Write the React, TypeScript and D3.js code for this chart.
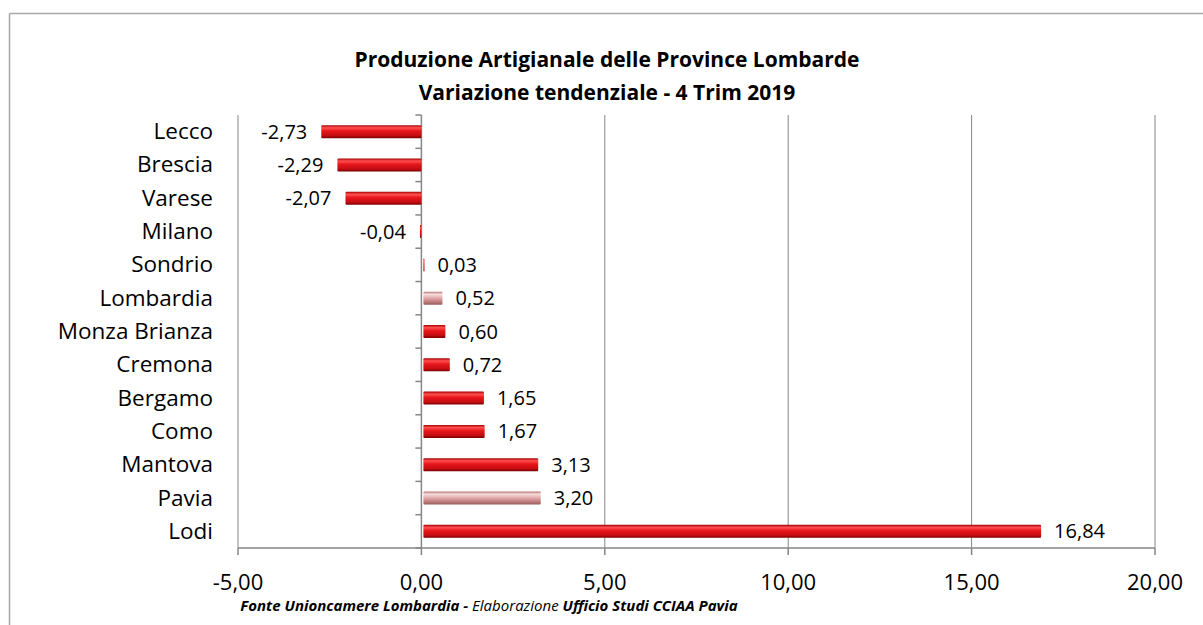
import React from 'react';
import * as d3 from 'd3';

const province = ['Lecco', 'Brescia', 'Varese', 'Milano', 'Sondrio', 'Lombardia', 'Monza Brianza', 'Cremona', 'Bergamo', 'Como', 'Mantova', 'Pavia', 'Lodi'];
const variazione = [-2.73, -2.29, -2.07, -0.04, 0.03, 0.52, 0.6, 0.72, 1.65, 1.67, 3.13, 3.2, 16.84];
const evidenziate = ['Lombardia', 'Pavia'];
const tickValues = [-5, 0, 5, 10, 15, 20];

const fmt = (v: number) => v.toFixed(2).replace('.', ',');
const FONT = '"Open Sans", Lato, sans-serif';

const App = () => {
  const width = 1203;
  const height = 625;
  const left = 238, right = 1155, top = 115, bottom = 548;

  const x = d3.scaleLinear().domain([-5, 20]).range([left, right]);
  const y = d3.scaleBand().domain(province).range([top, bottom]);
  const barH = 13;

  return (
    <svg width={width} height={height} style={{ position: 'absolute', left: 0, top: 0, background: '#fff' }}>
      <defs>
        <linearGradient id="rosso" x1="0" y1="0" x2="0" y2="1">
          <stop offset="0%" stopColor="#a50000" />
          <stop offset="20%" stopColor="#ff5050" />
          <stop offset="45%" stopColor="#e8161b" />
          <stop offset="80%" stopColor="#c40d12" />
          <stop offset="100%" stopColor="#7a0000" />
        </linearGradient>
        <linearGradient id="rosa" x1="0" y1="0" x2="0" y2="1">
          <stop offset="0%" stopColor="#b57373" />
          <stop offset="20%" stopColor="#f7dede" />
          <stop offset="50%" stopColor="#e2a8a8" />
          <stop offset="100%" stopColor="#9c5a5a" />
        </linearGradient>
      </defs>

      {/* cornice esterna */}
      <line x1={9.5} y1={13.5} x2={1203} y2={13.5} stroke="#a6a6a6" strokeWidth={1.5} />
      <line x1={9.5} y1={13.5} x2={9.5} y2={625} stroke="#a6a6a6" strokeWidth={1.5} />

      <text x={607} y={67} textAnchor="middle" fontFamily={FONT} fontWeight="bold" fontSize={21} fill="#000">
        Produzione Artigianale delle Province Lombarde
      </text>
      <text x={607} y={100} textAnchor="middle" fontFamily={FONT} fontWeight="bold" fontSize={21} fill="#000">
        Variazione tendenziale - 4 Trim 2019
      </text>

      {/* griglia */}
      {tickValues.map(t => (
        <g key={t}>
          {t !== 0 && (
            <line x1={x(t)} x2={x(t)} y1={top} y2={bottom} stroke="#868686" strokeWidth={1} />
          )}
          <line x1={x(t)} x2={x(t)} y1={bottom} y2={bottom + 7} stroke="#868686" strokeWidth={1.5} />
          <text x={x(t)} y={590} textAnchor="middle" fontFamily={FONT} fontSize={22} fill="#000">
            {fmt(t)}
          </text>
        </g>
      ))}
      <line x1={left} x2={right} y1={bottom} y2={bottom} stroke="#868686" strokeWidth={1.5} />

      {/* asse delle categorie sullo zero */}
      <line x1={x(0)} x2={x(0)} y1={top} y2={bottom} stroke="#868686" strokeWidth={1.5} />
      {[...province.map(p => y(p) as number), bottom].map((v, i) => (
        <line key={i} x1={x(0) - 6} x2={x(0)} y1={v} y2={v} stroke="#868686" strokeWidth={1.5} />
      ))}

      {province.map((p, i) => {
        const v = variazione[i];
        const cy = (y(p) as number) + y.bandwidth() / 2;
        const x0 = v >= 0 ? x(0) + 2 : x(v);
        const x1 = v >= 0 ? x(v) + 2 : x(0);
        const w = Math.max(1, x1 - x0);
        const fill = evidenziate.includes(p) ? 'url(#rosa)' : 'url(#rosso)';
        return (
          <g key={p}>
            <text x={213} y={cy + 7.5} textAnchor="end" fontFamily={FONT} fontSize={22.5} fill="#000">
              {p}
            </text>
            <rect x={x0} y={cy - barH / 2} width={w} height={barH} fill={fill} rx={1} />
            <text
              x={v >= 0 ? x1 + 13 : x0 - 14}
              y={cy + 7}
              textAnchor={v >= 0 ? 'start' : 'end'}
              fontFamily={FONT}
              fontSize={20}
              fill="#000"
            >
              {fmt(v)}
            </text>
          </g>
        );
      })}

      <text x={489} y={611} textAnchor="middle" fontFamily={FONT} fontSize={15} fontStyle="italic" fill="#000">
        <tspan fontWeight="bold">Fonte Unioncamere Lombardia - </tspan>
        <tspan>Elaborazione </tspan>
        <tspan fontWeight="bold">Ufficio Studi CCIAA Pavia</tspan>
      </text>
    </svg>
  );
};

export default App;
